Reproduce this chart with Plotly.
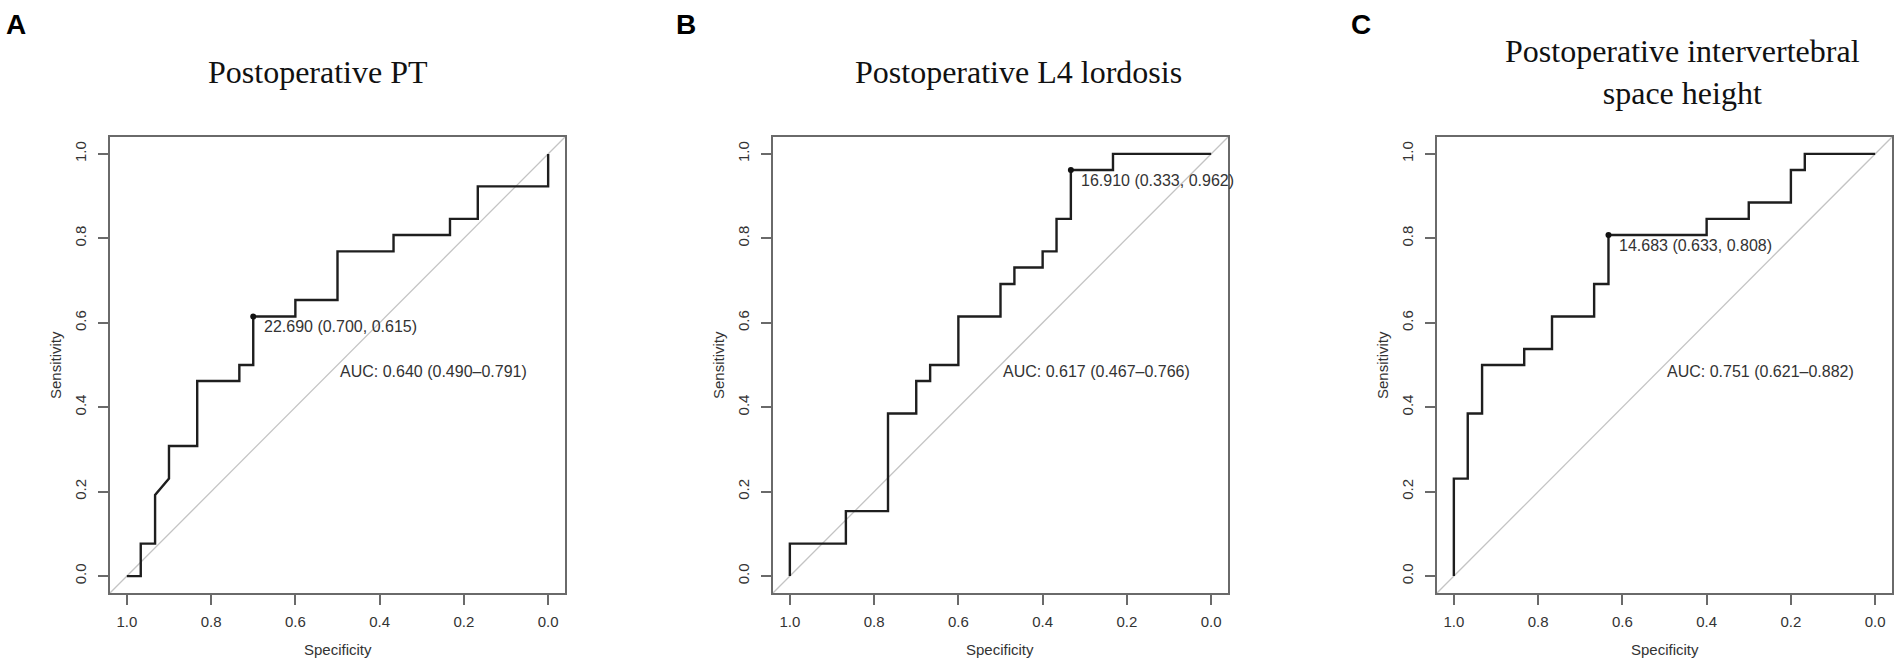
import plotly.graph_objects as go

W, H = 1902, 670

# ---------------- data ----------------
panel_letters = ["A", "B", "C"]
panel_titles = ["Postoperative PT",
                "Postoperative L4 lordosis",
                "Postoperative intervertebral<br>space height"]

spec_A = [1.000, 0.967, 0.967, 0.933, 0.933, 0.900, 0.900, 0.833, 0.833, 0.733, 0.733,
          0.700, 0.700, 0.600, 0.600, 0.500, 0.500, 0.367, 0.367, 0.233, 0.233, 0.167,
          0.167, 0.000, 0.000]
sens_A = [0.000, 0.000, 0.077, 0.077, 0.192, 0.231, 0.308, 0.308, 0.462, 0.462, 0.500,
          0.500, 0.615, 0.615, 0.654, 0.654, 0.769, 0.769, 0.808, 0.808, 0.846, 0.846,
          0.923, 0.923, 1.000]

spec_B = [1.000, 1.000, 0.867, 0.867, 0.767, 0.767, 0.700, 0.700, 0.667, 0.667, 0.600,
          0.600, 0.500, 0.500, 0.467, 0.467, 0.400, 0.400, 0.367, 0.367, 0.333, 0.333,
          0.233, 0.233, 0.000]
sens_B = [0.000, 0.077, 0.077, 0.154, 0.154, 0.385, 0.385, 0.462, 0.462, 0.500, 0.500,
          0.615, 0.615, 0.692, 0.692, 0.731, 0.731, 0.769, 0.769, 0.846, 0.846, 0.962,
          0.962, 1.000, 1.000]

spec_C = [1.000, 1.000, 0.967, 0.967, 0.933, 0.933, 0.833, 0.833, 0.767, 0.767, 0.667,
          0.667, 0.633, 0.633, 0.400, 0.400, 0.300, 0.300, 0.200, 0.200, 0.167, 0.167,
          0.000]
sens_C = [0.000, 0.231, 0.231, 0.385, 0.385, 0.500, 0.500, 0.538, 0.538, 0.615, 0.615,
          0.692, 0.692, 0.808, 0.808, 0.846, 0.846, 0.885, 0.885, 0.962, 0.962, 1.000,
          1.000]

best_thresholds = [22.690, 16.910, 14.683]
best_spec = [0.700, 0.333, 0.633]
best_sens = [0.615, 0.962, 0.808]

auc_values = [0.640, 0.617, 0.751]
auc_low = [0.490, 0.467, 0.621]
auc_high = [0.791, 0.766, 0.882]

tick_values = [1.0, 0.8, 0.6, 0.4, 0.2, 0.0]
tick_labels = ["1.0", "0.8", "0.6", "0.4", "0.2", "0.0"]

x_title = "Specificity"
y_title = "Sensitivity"

# ---------------- layout geometry (pixels) ----------------
box_left = [110, 773, 1437]
box_width = 455
box_top, box_bottom = 137, 593
title_cx = [318, 1018, 1682]
letter_cx = [16, 686, 1361]

specs = [spec_A, spec_B, spec_C]
senss = [sens_A, sens_B, sens_C]

SANS = "Liberation Sans"
SERIF = "Liberation Serif"
LINE_COL = "#6a6a6a"
TEXT_COL = "#333333"

fig = go.Figure()
annotations = []
layout_axes = {}

for i in range(3):
    xa = "x" if i == 0 else f"x{i+1}"
    ya = "y" if i == 0 else f"y{i+1}"
    # identity line
    fig.add_trace(go.Scatter(x=[1.04, -0.04], y=[-0.04, 1.04], mode="lines",
                             line=dict(color="#c4c4c4", width=1.3),
                             xaxis=xa, yaxis=ya, hoverinfo="skip", showlegend=False))
    # ROC curve
    fig.add_trace(go.Scatter(x=specs[i], y=senss[i], mode="lines",
                             line=dict(color="#1e1e1e", width=2.4),
                             xaxis=xa, yaxis=ya, showlegend=False))
    # best threshold point
    fig.add_trace(go.Scatter(x=[best_spec[i]], y=[best_sens[i]], mode="markers",
                             marker=dict(color="#111111", size=6),
                             xaxis=xa, yaxis=ya, showlegend=False))

    xd = [box_left[i] / W, (box_left[i] + box_width) / W]
    yd = [1 - box_bottom / H, 1 - box_top / H]
    common = dict(showline=True, linecolor=LINE_COL, linewidth=1.5, mirror=True,
                  ticks="outside", ticklen=10, tickwidth=1.5, tickcolor=LINE_COL,
                  showgrid=False, zeroline=False, tickvals=tick_values, ticktext=tick_labels,
                  tickfont=dict(family=SANS, size=15, color=TEXT_COL))
    layout_axes["xaxis" if i == 0 else f"xaxis{i+1}"] = dict(
        domain=xd, range=[1.04, -0.04], anchor=ya, ticklabelstandoff=4, **common)
    layout_axes["yaxis" if i == 0 else f"yaxis{i+1}"] = dict(
        domain=yd, range=[-0.04, 1.04], anchor=xa, tickangle=-90, ticklabelstandoff=6, **common)

    # threshold label
    annotations.append(dict(
        x=best_spec[i] - 0.02, y=best_sens[i] - 0.024, xref=xa, yref=ya,
        text=f"{best_thresholds[i]:.3f} ({best_spec[i]:.3f}, {best_sens[i]:.3f})",
        showarrow=False, xanchor="left", yanchor="middle",
        font=dict(family=SANS, size=16, color=TEXT_COL)))
    # AUC label
    annotations.append(dict(
        x=0.5, y=0.485, xref=xa, yref=ya,
        text=f"AUC: {auc_values[i]:.3f} ({auc_low[i]:.3f}\u2013{auc_high[i]:.3f})",
        showarrow=False, xanchor="left", yanchor="middle",
        font=dict(family=SANS, size=16, color=TEXT_COL)))
    # axis titles
    annotations.append(dict(
        x=(box_left[i] + box_width / 2) / W, y=1 - 649 / H, xref="paper", yref="paper",
        text=x_title, showarrow=False, xanchor="center", yanchor="middle",
        font=dict(family=SANS, size=15, color=TEXT_COL)))
    annotations.append(dict(
        x=(box_left[i] - 55) / W, y=1 - (box_top + box_bottom) / 2 / H,
        xref="paper", yref="paper", text=y_title, textangle=-90, showarrow=False,
        xanchor="center", yanchor="middle",
        font=dict(family=SANS, size=15, color=TEXT_COL)))
    # panel title
    annotations.append(dict(
        x=title_cx[i] / W, y=1 - 72 / H, xref="paper", yref="paper",
        text=panel_titles[i], showarrow=False, xanchor="center", yanchor="middle",
        font=dict(family=SERIF, size=32, color="#111111")))
    # panel letter
    annotations.append(dict(
        x=letter_cx[i] / W, y=1 - 24 / H, xref="paper", yref="paper",
        text=f"<b>{panel_letters[i]}</b>", showarrow=False, xanchor="center",
        yanchor="middle", font=dict(family=SANS, size=28, color="#000000")))

fig.update_layout(width=W, height=H, margin=dict(l=0, r=0, t=0, b=0),
                  paper_bgcolor="white", plot_bgcolor="white",
                  annotations=annotations, showlegend=False, **layout_axes)

fig.write_html("out.html", config={"displayModeBar": False},
               post_script="document.body.style.margin='0px';document.body.style.overflow='hidden';")
